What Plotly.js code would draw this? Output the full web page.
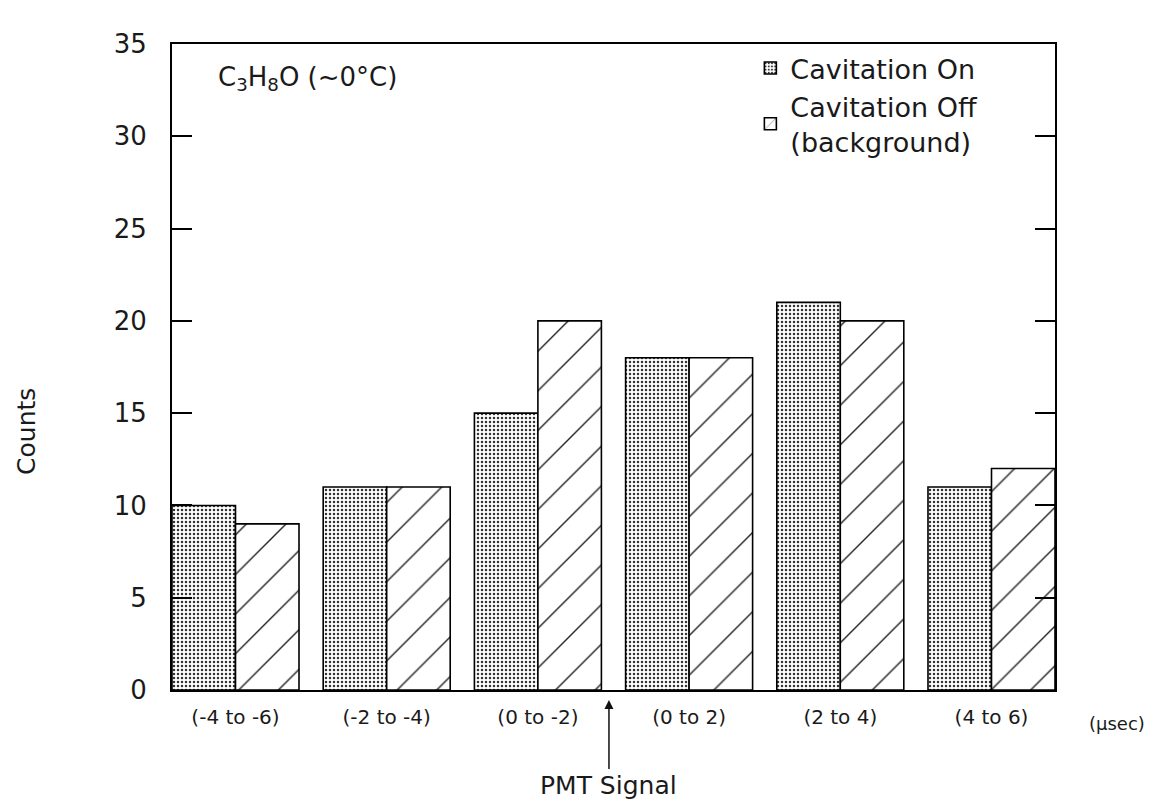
<!DOCTYPE html>
<html>
<head>
<meta charset="utf-8">
<script src="https://cdn.plot.ly/plotly-3.0.1.min.js"></script>
<style>
  html, body { margin: 0; padding: 0; background: #fff; }
  #chart { width: 1150px; height: 812px; }
</style>
</head>
<body>
<div id="chart"></div>
<script>
// Time bins (x categories)
const categories = ["(-4 to -6)", "(-2 to -4)", "(0 to -2)", "(0 to 2)", "(2 to 4)", "(4 to 6)"];
// Counts
const cavitationOn  = [10, 11, 15, 18, 21, 11];
const cavitationOff = [9, 11, 20, 18, 20, 12];
const seriesNames = ["Cavitation On", "Cavitation Off<br>(background)"];
const yTicks = [0, 5, 10, 15, 20, 25, 30, 35];

const FONT = "DejaVu Sans, Liberation Sans, sans-serif";
const INK = "#1a1a1a";

const traces = [
  {
    type: "bar",
    name: seriesNames[0],
    x: categories,
    y: cavitationOn,
    marker: {
      color: "#ffffff",
      line: { color: "#000", width: 1.6 },
      pattern: { shape: ".", fgcolor: "#333", bgcolor: "#ffffff", size: 4, solidity: 0.3 }
    },
    hoverinfo: "x+y"
  },
  {
    type: "bar",
    name: seriesNames[1],
    x: categories,
    y: cavitationOff,
    marker: {
      color: "#ffffff",
      line: { color: "#000", width: 1.6 },
      pattern: { shape: "/", fgcolor: "#222", bgcolor: "#ffffff", size: 28, solidity: 0.05 }
    },
    hoverinfo: "x+y"
  }
];

const layout = {
  width: 1150,
  height: 812,
  paper_bgcolor: "#fff",
  plot_bgcolor: "#fff",
  margin: { l: 172, r: 95, t: 44, b: 122 },
  font: { family: FONT, color: INK, size: 20 },
  barmode: "group",
  bargap: 0.16,
  bargroupgap: 0,
  showlegend: true,
  legend: {
    x: 0.655, y: 1.0, xanchor: "left", yanchor: "top",
    bgcolor: "rgba(0,0,0,0)",
    font: { family: FONT, size: 27, color: INK },
    tracegroupgap: 2,
    itemwidth: 30
  },
  xaxis: {
    type: "category",
    range: [-0.42, 5.42],
    showline: true, linecolor: "#000", linewidth: 2,
    mirror: true,
    ticks: "",
    showgrid: false,
    zeroline: false,
    tickfont: { family: FONT, size: 20, color: INK },
    ticklabelstandoff: 8
  },
  yaxis: {
    range: [0, 35],
    tickvals: yTicks,
    ticktext: yTicks.map(String),
    showline: true, linecolor: "#000", linewidth: 2,
    mirror: "ticks",
    ticks: "inside", ticklen: 20, tickwidth: 2, tickcolor: "#000",
    showgrid: false,
    zeroline: false,
    tickfont: { family: FONT, size: 26, color: INK },
    ticklabelstandoff: 18
  },
  annotations: [
    {
      text: "C<sub>3</sub>H<sub>8</sub>O (~0°C)",
      xref: "paper", yref: "paper",
      x: 0.05, y: 0.975, xanchor: "left", yanchor: "top",
      showarrow: false,
      font: { family: FONT, size: 26, color: INK }
    },
    {
      text: "Counts",
      xref: "paper", yref: "paper",
      x: -0.165, y: 0.40, xanchor: "center", yanchor: "middle",
      textangle: -90,
      showarrow: false,
      font: { family: FONT, size: 25, color: INK }
    },
    {
      text: "(μsec)",
      xref: "paper", yref: "paper",
      x: 1.07, y: -0.052, xanchor: "center", yanchor: "middle",
      showarrow: false,
      font: { family: FONT, size: 18, color: INK }
    },
    {
      text: "PMT Signal",
      xref: "x", yref: "y",
      x: 2.47, y: 0,
      ax: 0, ay: 95,
      axref: "pixel", ayref: "pixel",
      showarrow: true,
      arrowhead: 2, arrowsize: 1.2, arrowwidth: 1.5, arrowcolor: "#111",
      standoff: 10,
      font: { family: FONT, size: 25, color: INK }
    }
  ]
};

Plotly.newPlot("chart", traces, layout, { displayModeBar: false, staticPlot: true });
</script>
</body>
</html>
